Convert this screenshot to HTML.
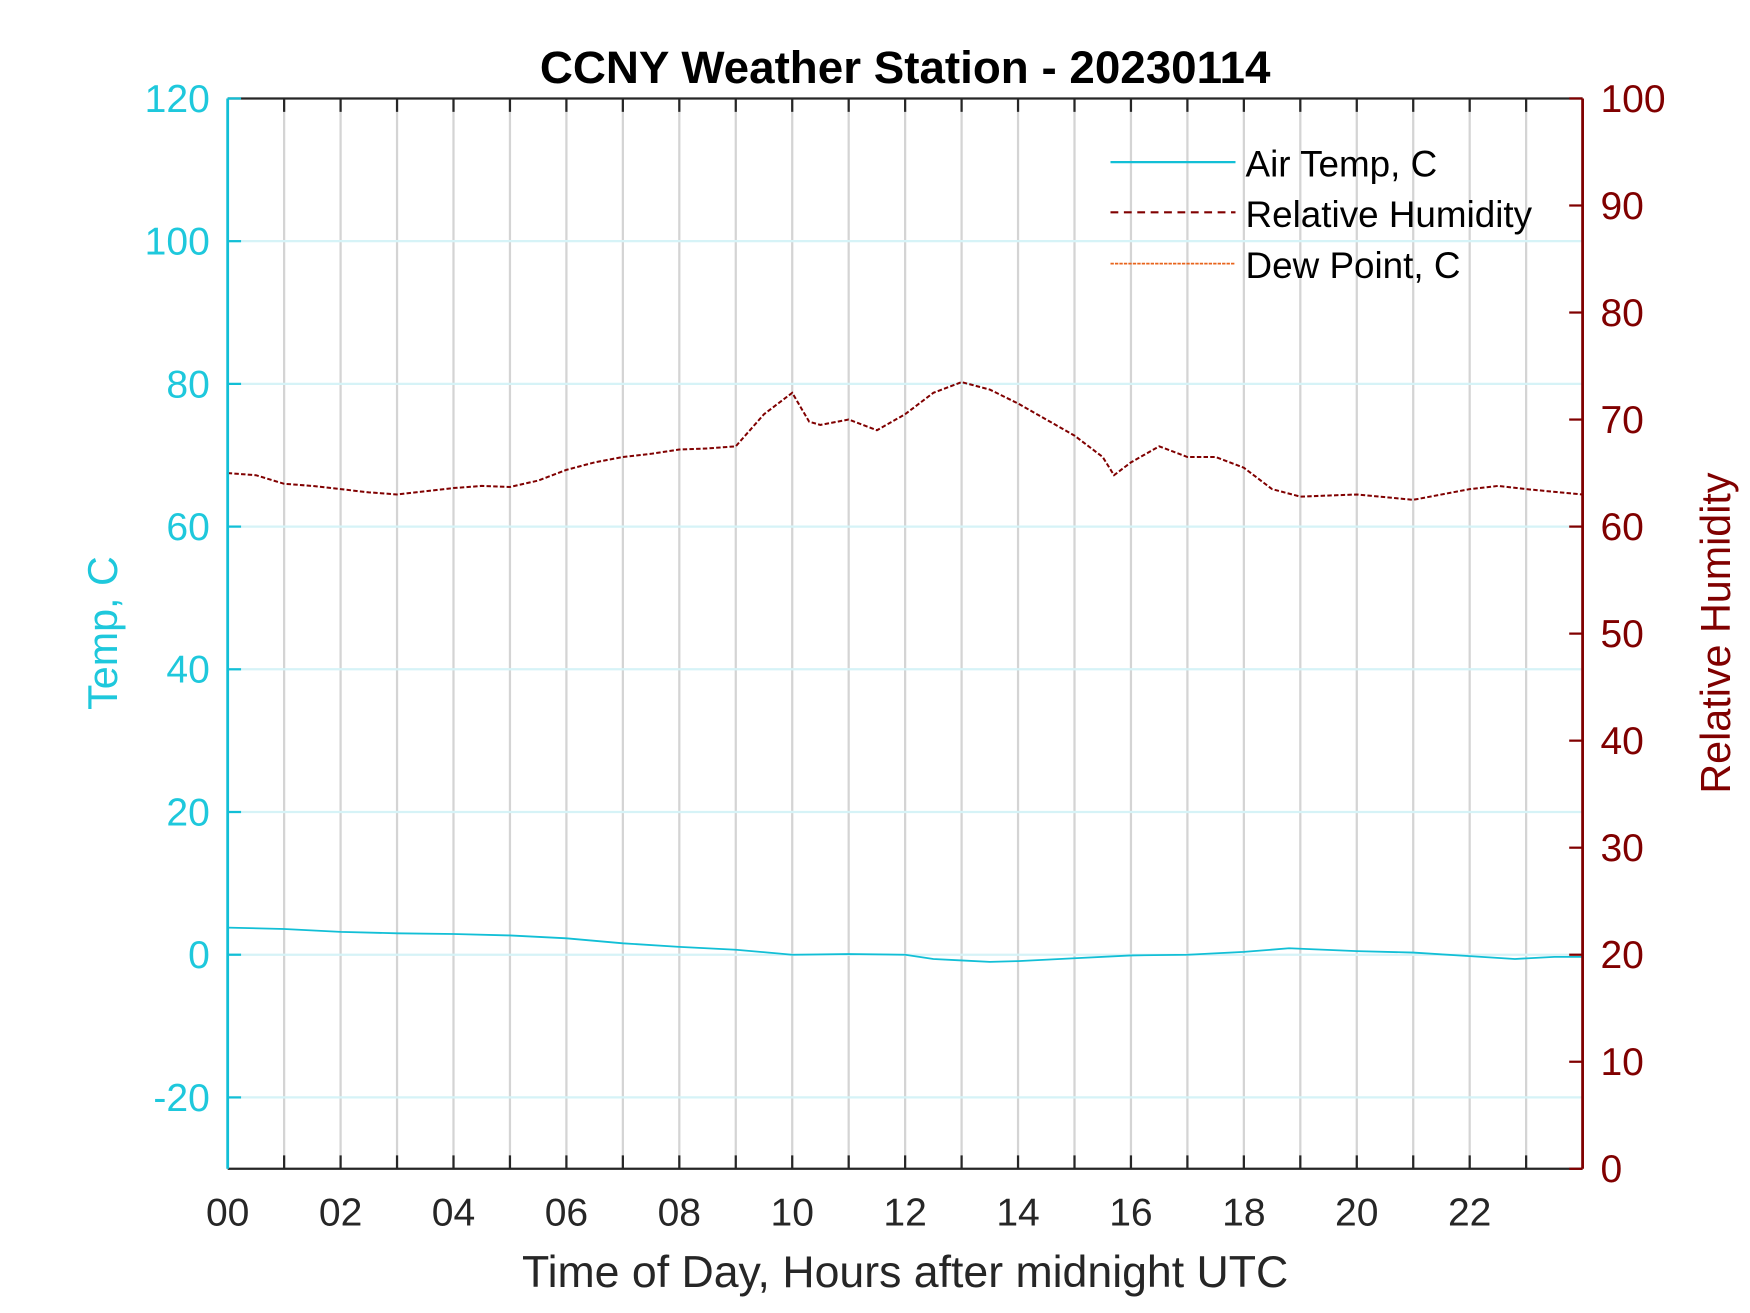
<!DOCTYPE html>
<html><head><meta charset="utf-8"><style>
html,body{margin:0;padding:0;background:#fff}
svg{display:block}
text{font-family:"Liberation Sans",Arial,sans-serif}
</style></head><body>
<svg id="chart" width="1750" height="1313" viewBox="0 0 1568 1176" xmlns="http://www.w3.org/2000/svg">
<rect width="1568" height="1176" fill="#fff"/>
<g id="grid"></g>
<g id="series"></g>
<g id="axes"></g>
<text x="811" y="74" text-anchor="middle" font-size="41" font-weight="bold" fill="#000">CCNY Weather Station - 20230114</text>
<text x="811" y="1153" text-anchor="middle" font-size="40" fill="#262626">Time of Day, Hours after midnight UTC</text>
<text transform="translate(105,567) rotate(-90)" text-anchor="middle" font-size="37" fill="#1ec8dc">Temp, C</text>
<text transform="translate(1550,567) rotate(-90)" text-anchor="middle" font-size="37" fill="#800000">Relative Humidity</text>
<g>
<line x1="995" y1="145" x2="1107" y2="145" stroke="#12bfd6" stroke-width="2"/>
<text x="1116" y="158" font-size="33" fill="#000">Air Temp, C</text>
<line x1="995" y1="190" x2="1107" y2="190" stroke="#800000" stroke-width="2" stroke-dasharray="7,5"/>
<text x="1116" y="203" font-size="33" fill="#000">Relative Humidity</text>
<line x1="995" y1="236" x2="1107" y2="236" stroke="#e8641c" stroke-width="1.5" stroke-dasharray="3,1"/>
<text x="1116" y="249" font-size="33" fill="#000">Dew Point, C</text>
</g>
</svg>
<script>
const tempHours=[0,1,2,3,4,5,6,7,8,9,10,11,12,12.5,13,13.5,14,15,16,17,18,18.8,20,21,22,22.8,23.5,24];
const tempValues=[3.8,3.6,3.2,3.0,2.9,2.7,2.3,1.6,1.1,0.7,0.0,0.1,0.0,-0.6,-0.8,-1.0,-0.9,-0.5,-0.1,0.0,0.4,0.9,0.5,0.3,-0.2,-0.6,-0.3,-0.3];
const rhHours=[0,0.5,1,1.5,2,2.5,3,3.5,4,4.5,5,5.5,6,6.5,7,7.5,8,8.5,9,9.5,10,10.3,10.5,11,11.5,12,12.5,13,13.5,14,14.5,15,15.5,15.7,16,16.5,17,17.5,18,18.5,19,20,21,22,22.5,23,24];
const rhValues=[65.0,64.8,64.0,63.8,63.5,63.2,63.0,63.3,63.6,63.8,63.7,64.3,65.3,66.0,66.5,66.8,67.2,67.3,67.5,70.5,72.5,69.8,69.5,70.0,69.0,70.5,72.5,73.5,72.8,71.5,70.0,68.5,66.5,64.8,66.0,67.5,66.5,66.5,65.5,63.5,62.8,63.0,62.5,63.5,63.8,63.5,63.0];
const xTickLabels=["00","02","04","06","08","10","12","14","16","18","20","22"];
const leftTicks=[-20,0,20,40,60,80,100,120];
const rightTicks=[0,10,20,30,40,50,60,70,80,90,100];

const PL=204,PR=1418,PT=88,PB=1047;
const xs=h=>PL+(PR-PL)*h/24;
const yL=v=>PB-(PB-PT)*(v+30)/150;
const yR=v=>PB-(PB-PT)*v/100;
const NS="http://www.w3.org/2000/svg";
function mk(tag,parent,attrs){const e=document.createElementNS(NS,tag);for(const k in attrs)e.setAttribute(k,attrs[k]);parent.appendChild(e);return e;}
const gridG=document.getElementById('grid'),serG=document.getElementById('series'),axG=document.getElementById('axes');

for(let h=1;h<24;h++){
  const g=mk('line',gridG,{x1:xs(h),x2:xs(h),y1:PT,y2:PB,stroke:'#d4d4d4','stroke-width':2});
  
  
}
leftTicks.forEach(v=>{
  if(v===120)return;
  const g=mk('line',gridG,{x1:PL,x2:PR,y1:yL(v),y2:yL(v),stroke:'#d6f3f7','stroke-width':2});
  
  
});

const tp=mk('polyline',serG,{points:tempHours.map((h,i)=>xs(h)+','+yL(tempValues[i])).join(' '),fill:'none',stroke:'#12bfd6','stroke-width':1.6});


const rp=mk('polyline',serG,{points:rhHours.map((h,i)=>xs(h)+','+yR(rhValues[i])).join(' '),fill:'none',stroke:'#800000','stroke-width':1.8,'stroke-dasharray':'4,2'});



const topAx=mk('line',axG,{x1:PL,x2:PR,y1:PT,y2:PT,stroke:'#262626','stroke-width':2});


const botAx=mk('line',axG,{x1:PL,x2:PR,y1:PB,y2:PB,stroke:'#262626','stroke-width':2});


const leftAx=mk('line',axG,{x1:PL,x2:PL,y1:PT,y2:PB,stroke:'#12bfd6','stroke-width':2.5});


const rightAx=mk('line',axG,{x1:PR,x2:PR,y1:PT,y2:PB,stroke:'#800000','stroke-width':2.5});


for(let h=1;h<24;h++){
  mk('line',axG,{x1:xs(h),x2:xs(h),y1:PB,y2:PB-12,stroke:'#262626','stroke-width':2});
  mk('line',axG,{x1:xs(h),x2:xs(h),y1:PT,y2:PT+12,stroke:'#262626','stroke-width':2});
}
xTickLabels.forEach((s,i)=>{
  const t=mk('text',axG,{x:xs(i*2),y:PB+51,'text-anchor':'middle','font-size':35,fill:'#262626'});
  t.textContent=s;
  
  
});
leftTicks.forEach(v=>{
  mk('line',axG,{x1:PL,x2:PL+12,y1:yL(v),y2:yL(v),stroke:'#12bfd6','stroke-width':2});
  const t=mk('text',axG,{x:PL-16,y:yL(v)+12,'text-anchor':'end','font-size':35,fill:'#1ec8dc'});
  t.textContent=v;
  
  
});
rightTicks.forEach(v=>{
  mk('line',axG,{x1:PR-12,x2:PR,y1:yR(v),y2:yR(v),stroke:'#800000','stroke-width':2});
  const t=mk('text',axG,{x:PR+16,y:yR(v)+12,'text-anchor':'start','font-size':35,fill:'#800000'});
  t.textContent=v;
  
  
});
</script>
</body></html>
